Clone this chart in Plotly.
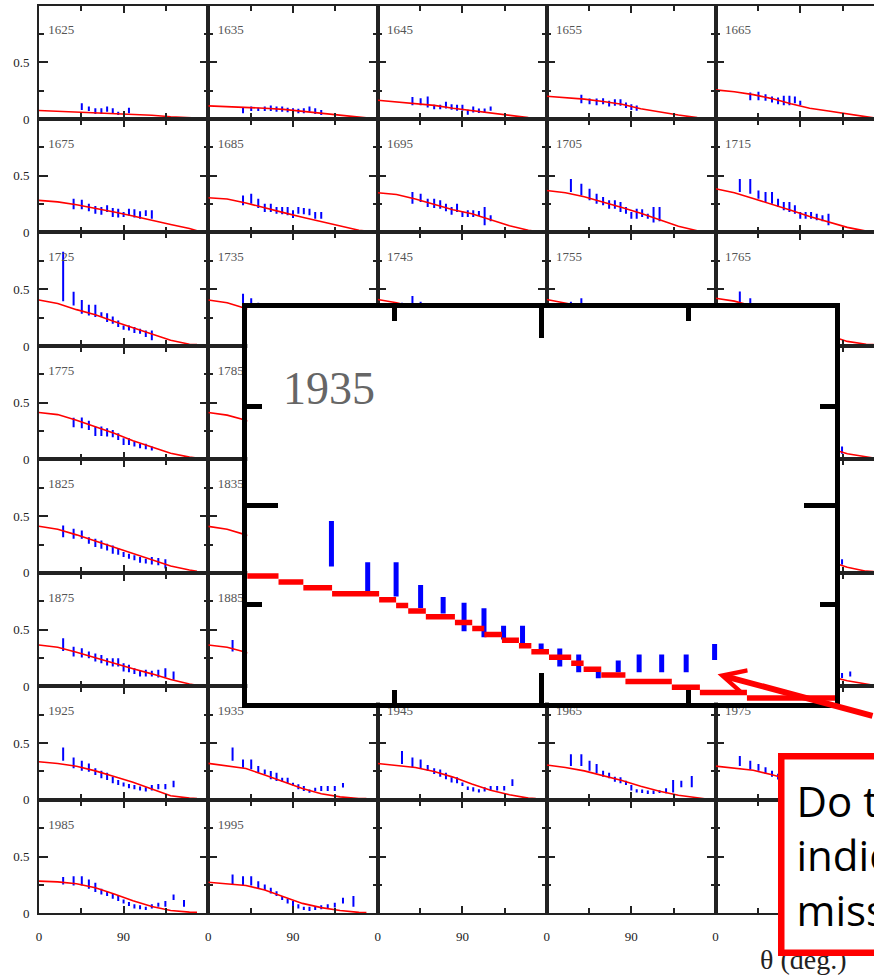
import plotly.graph_objects as go

# ---------------- data ----------------
LABELS = ["1625", "1635", "1645", "1655", "1665",
          "1675", "1685", "1695", "1705", "1715",
          "1725", "1735", "1745", "1755", "1765",
          "1775", "1785", "1795", "1805", "1815",
          "1825", "1835", "1845", "1855", "1865",
          "1875", "1885", "1895", "1905", "1915",
          "1925", "1935", "1945", "1965", "1975",
          "1985", "1995", "", "", ""]

THETA_BINS = [25.8, 36.9, 45.6, 53.1, 60.0, 66.4, 72.5, 78.5, 84.3, 90.0,
              95.7, 101.5, 107.5, 113.6, 120.0, 126.9, 134.4, 143.1, 154.2]

RED_X = [0, 20, 40, 60, 80, 100, 120, 140, 160, 168]

RED_Y = [
    [0.075, 0.068, 0.062, 0.057, 0.05, 0.042, 0.033, 0.02, 0.01, 0.008],      # 1625
    [0.116, 0.11, 0.102, 0.095, 0.085, 0.068, 0.052, 0.033, 0.014, 0.01],     # 1635
    [0.166, 0.15, 0.14, 0.12, 0.095, 0.075, 0.05, 0.03, 0.012, 0.01],         # 1645
    [0.2, 0.19, 0.175, 0.155, 0.13, 0.09, 0.06, 0.035, 0.012, 0.01],          # 1655
    [0.257, 0.24, 0.215, 0.18, 0.135, 0.095, 0.07, 0.045, 0.015, 0.01],       # 1665
    [0.283, 0.27, 0.245, 0.215, 0.18, 0.145, 0.105, 0.07, 0.035, 0.015],      # 1675
    [0.306, 0.295, 0.26, 0.215, 0.175, 0.135, 0.095, 0.055, 0.02, 0.012],     # 1685
    [0.35, 0.335, 0.295, 0.25, 0.2, 0.165, 0.11, 0.06, 0.02, 0.01],           # 1695
    [0.37, 0.35, 0.315, 0.27, 0.22, 0.17, 0.11, 0.055, 0.015, 0.012],         # 1705
    [0.385, 0.35, 0.3, 0.25, 0.195, 0.14, 0.095, 0.045, 0.012, 0.01],         # 1715
    [0.405, 0.375, 0.32, 0.275, 0.215, 0.16, 0.105, 0.05, 0.015, 0.012],      # 1725
    [0.405, 0.38, 0.33, 0.28, 0.22, 0.165, 0.11, 0.055, 0.015, 0.012],        # 1735
    [0.41, 0.38, 0.34, 0.285, 0.225, 0.165, 0.11, 0.055, 0.015, 0.012],       # 1745
    [0.41, 0.38, 0.345, 0.29, 0.23, 0.17, 0.11, 0.055, 0.015, 0.012],         # 1755
    [0.42, 0.395, 0.35, 0.29, 0.225, 0.16, 0.095, 0.04, 0.015, 0.012],        # 1765
    [0.414, 0.395, 0.345, 0.29, 0.23, 0.165, 0.11, 0.055, 0.02, 0.012],       # 1775
    [0.414, 0.39, 0.345, 0.29, 0.23, 0.165, 0.11, 0.055, 0.02, 0.012],        # 1785
    [0.41, 0.39, 0.34, 0.285, 0.225, 0.165, 0.11, 0.055, 0.02, 0.012],        # 1795
    [0.41, 0.39, 0.34, 0.285, 0.225, 0.165, 0.105, 0.055, 0.02, 0.012],       # 1805
    [0.41, 0.385, 0.34, 0.285, 0.225, 0.16, 0.1, 0.05, 0.02, 0.012],          # 1815
    [0.411, 0.385, 0.335, 0.28, 0.225, 0.165, 0.11, 0.06, 0.025, 0.015],      # 1825
    [0.41, 0.385, 0.335, 0.28, 0.22, 0.165, 0.11, 0.06, 0.025, 0.015],        # 1835
    [0.4, 0.375, 0.33, 0.275, 0.22, 0.16, 0.105, 0.06, 0.025, 0.015],         # 1845
    [0.39, 0.37, 0.325, 0.27, 0.215, 0.16, 0.105, 0.06, 0.025, 0.015],        # 1855
    [0.38, 0.36, 0.32, 0.265, 0.21, 0.155, 0.1, 0.05, 0.015, 0.012],          # 1865
    [0.364, 0.345, 0.3, 0.25, 0.2, 0.155, 0.11, 0.06, 0.02, 0.01],            # 1875
    [0.364, 0.345, 0.3, 0.25, 0.2, 0.15, 0.105, 0.055, 0.02, 0.01],           # 1885
    [0.355, 0.335, 0.295, 0.245, 0.195, 0.145, 0.1, 0.05, 0.02, 0.01],        # 1895
    [0.345, 0.33, 0.29, 0.24, 0.19, 0.14, 0.095, 0.05, 0.02, 0.01],           # 1905
    [0.34, 0.325, 0.29, 0.24, 0.19, 0.14, 0.09, 0.05, 0.02, 0.01],            # 1915
    [0.335, 0.32, 0.295, 0.255, 0.205, 0.155, 0.095, 0.035, 0.015, 0.01],     # 1925
    [0.321, 0.3, 0.276, 0.218, 0.158, 0.1, 0.054, 0.026, 0.012, 0.012],       # 1935
    [0.32, 0.305, 0.285, 0.25, 0.2, 0.14, 0.085, 0.045, 0.015, 0.012],        # 1945
    [0.306, 0.285, 0.255, 0.215, 0.17, 0.12, 0.075, 0.04, 0.015, 0.01],       # 1965
    [0.297, 0.28, 0.26, 0.22, 0.175, 0.125, 0.08, 0.04, 0.015, 0.01],         # 1975
    [0.283, 0.277, 0.26, 0.225, 0.17, 0.11, 0.06, 0.025, 0.01, 0.008],        # 1985
    [0.274, 0.262, 0.245, 0.205, 0.145, 0.087, 0.05, 0.025, 0.008, 0.006],    # 1995
]

# enlarged 1935 panel (inset)
INSET_LABEL = "1935"
INSET_RED_X = [0, 9.6, 17.2, 26.0, 40.4, 45.6, 49.3, 54.7, 63.6, 68.9, 72.6, 78.0,
               83.2, 87.0, 92.4, 99.2, 103.0, 108.4, 115.8, 130.0, 138.6, 153.0, 180.0]
INSET_RED_Y = [0.321, 0.306, 0.291, 0.276, 0.261, 0.246, 0.232, 0.218, 0.203, 0.188,
               0.173, 0.158, 0.144, 0.129, 0.115, 0.100, 0.085, 0.070, 0.054, 0.039,
               0.026, 0.012, 0.012]
INSET_BAR_LOW = [0.345, 0.283, 0.269, 0.240, 0.226, 0.181, 0.166, 0.160, 0.145,
                 0.125, 0.092, 0.077, 0.062, 0.077, 0.077, 0.077, 0.077, 0.108]
INSET_BAR_HIGH = [0.460, 0.356, 0.356, 0.298, 0.268, 0.253, 0.239, 0.195, 0.195,
                  0.150, 0.137, 0.122, 0.090, 0.107, 0.122, 0.122, 0.122, 0.149]

BAR_FIRST = [2, 1, 1, 1, 1,
             1, 1, 1, 0, 0,
             0, 1, 0, 0, 0,
             1, 1, 1, 0, 0,
             0, 1, 0, 0, 0,
             0, 0, 0, 0, 0,
             0, 0, 0, 0, 0,
             0, 0]

BAR_LOW = [
    [0.08, 0.07, 0.045, 0.045, 0.065, 0.045, 0.035, None, 0.05],
    [0.05, 0.07, 0.07, 0.07, 0.07, 0.065, 0.065, 0.06, 0.05, 0.05, 0.05, 0.065, 0.045, 0.035],
    [0.122, 0.122, 0.102, 0.087, 0.087, 0.093, 0.082, 0.073, 0.073, 0.038, 0.058, 0.052, 0.052, 0.073],
    [0.14, 0.131, 0.122, 0.131, 0.11, 0.117, 0.117, 0.096, 0.08, 0.073],
    [0.166, 0.166, 0.16, 0.146, 0.131, 0.122, 0.122, 0.14, 0.122],
    [0.204, 0.204, 0.187, 0.166, 0.157, 0.181, 0.137, 0.131, 0.137, 0.15, 0.131, 0.122, 0.146, 0.122],
    [0.239, 0.254, 0.216, 0.181, 0.181, 0.166, 0.16, 0.152, 0.128, 0.166, 0.16, 0.152, 0.122, 0.122],
    [0.254, 0.268, 0.224, 0.216, 0.21, 0.187, 0.157, 0.181, 0.137, 0.137, 0.137, 0.146, 0.064, 0.099],
    [0.356, 0.327, 0.283, 0.254, 0.239, 0.21, 0.21, 0.181, 0.166, 0.122, 0.122, 0.137, 0.122, 0.087, 0.099],
    [0.356, 0.341, 0.297, 0.268, 0.254, 0.224, 0.195, 0.181, 0.166, 0.122, 0.122, 0.122, 0.108, 0.099, 0.064],
    [0.394, 0.356, 0.283, 0.268, 0.254, 0.254, 0.21, 0.195, 0.166, 0.143, 0.137, 0.114, 0.108, 0.079, 0.05],
    [0.34, 0.34, 0.3, 0.27, 0.25, 0.22, 0.2, 0.18, 0.15, 0.13, 0.12, 0.1, 0.09, 0.08],
    [0.34, 0.35, 0.34, 0.3, 0.28, 0.25, 0.22, 0.2, 0.17, 0.14, 0.13, 0.11, 0.1, 0.09, 0.08],
    [0.33, 0.32, 0.3, 0.27, 0.25, 0.22, 0.2, 0.17, 0.15, 0.13, 0.12, 0.1, 0.09, 0.08],
    [0.34, 0.34, 0.31, 0.29, 0.26, 0.24, 0.21, 0.19, 0.16, 0.14, 0.12, 0.1, 0.09, 0.08, 0.07],
    [0.283, 0.274, 0.259, 0.207, 0.207, 0.201, 0.195, 0.172, 0.128, 0.128, 0.114, 0.099, 0.09, 0.079],
    [0.29, 0.27, 0.25, 0.21, 0.2, 0.19, 0.18, 0.16, 0.13, 0.12, 0.1, 0.09, 0.08, 0.07],
    [0.28, 0.27, 0.25, 0.21, 0.2, 0.19, 0.18, 0.16, 0.13, 0.12, 0.1, 0.09, 0.08, 0.07],
    [0.3, 0.28, 0.27, 0.25, 0.21, 0.2, 0.19, 0.17, 0.15, 0.13, 0.12, 0.1, 0.09, 0.08, 0.07, 0.06],
    [0.3, 0.28, 0.27, 0.25, 0.21, 0.2, 0.19, 0.17, 0.15, 0.13, 0.12, 0.1, 0.09, 0.08, 0.07, 0.06, 0.05],
    [0.315, 0.3, 0.3, 0.257, 0.227, 0.213, 0.198, 0.169, 0.16, 0.14, 0.125, 0.111, 0.09, 0.082, 0.073, 0.067, 0.038],
    [0.31, 0.29, 0.26, 0.23, 0.21, 0.2, 0.17, 0.16, 0.14, 0.12, 0.11, 0.09, 0.08, 0.07, 0.06, 0.04],
    [0.31, 0.3, 0.29, 0.25, 0.22, 0.21, 0.19, 0.17, 0.15, 0.13, 0.12, 0.1, 0.09, 0.08, 0.07, 0.06, 0.05],
    [0.3, 0.29, 0.28, 0.25, 0.22, 0.2, 0.19, 0.17, 0.15, 0.13, 0.11, 0.1, 0.09, 0.08, 0.07, 0.07, 0.06],
    [0.3, 0.28, 0.27, 0.24, 0.21, 0.2, 0.18, 0.16, 0.14, 0.12, 0.11, 0.1, 0.09, 0.08, 0.07, 0.07, 0.073],
    [0.312, 0.262, 0.254, 0.248, 0.219, 0.204, 0.184, 0.175, 0.175, 0.131, 0.125, 0.108, 0.087, 0.087, 0.087, 0.079, 0.079, 0.058],
    [0.306, 0.27, 0.25, 0.24, 0.21, 0.2, 0.18, 0.17, 0.15, 0.13, 0.12, 0.1, 0.09, 0.08, 0.08, 0.08, 0.07, 0.06],
    [0.3, 0.26, 0.25, 0.24, 0.21, 0.2, 0.18, 0.17, 0.15, 0.13, 0.12, 0.1, 0.09, 0.08, 0.08, 0.08, 0.07, 0.07],
    [0.3, 0.26, 0.25, 0.23, 0.21, 0.19, 0.18, 0.16, 0.14, 0.12, 0.11, 0.1, 0.09, 0.08, 0.08, 0.08, 0.07, 0.08],
    [0.3, 0.26, 0.25, 0.23, 0.21, 0.19, 0.18, 0.16, 0.14, 0.12, 0.11, 0.1, 0.09, 0.08, 0.08, 0.08, 0.073, 0.087],
    [0.344, 0.277, 0.257, 0.248, 0.219, 0.19, 0.175, 0.146, 0.131, 0.117, 0.102, 0.093, 0.082, 0.073, 0.082, 0.093, 0.093, 0.111],
    INSET_BAR_LOW,
    [0.315, 0.286, 0.277, 0.257, 0.227, 0.204, 0.181, 0.152, 0.146, 0.122, 0.087, 0.073, 0.064, 0.073, 0.082, 0.082, 0.082, 0.122],
    [0.297, 0.297, 0.257, 0.233, 0.204, 0.19, 0.16, 0.146, 0.131, 0.082, 0.064, 0.06, 0.052, 0.052, 0.06, 0.058, 0.064, 0.111, 0.111],
    [0.297, 0.268, 0.257, 0.227, 0.204, 0.18, 0.16, 0.14, 0.12, 0.1, 0.08, 0.07, 0.06, 0.06, 0.06, 0.07, 0.07, 0.1],
    [0.254, 0.245, 0.245, 0.216, 0.187, 0.166, 0.152, 0.128, 0.108, 0.087, 0.064, 0.041, 0.035, 0.029, 0.041, 0.058, 0.058, 0.117, 0.058],
    [0.254, 0.245, 0.245, 0.216, 0.204, 0.175, 0.152, 0.117, 0.087, 0.064, 0.041, 0.029, 0.02, 0.029, 0.035, 0.041, 0.05, 0.087, 0.058],
]

BAR_HIGH = [
    [0.14, 0.11, 0.095, 0.095, 0.11, 0.095, 0.065, None, 0.10],
    [0.10, 0.11, 0.10, 0.11, 0.12, 0.11, 0.11, 0.10, 0.095, 0.09, 0.095, 0.11, 0.095, 0.08],
    [0.195, 0.184, 0.198, 0.125, 0.125, 0.152, 0.131, 0.125, 0.125, 0.082, 0.111, 0.093, 0.093, 0.111],
    [0.213, 0.18, 0.18, 0.184, 0.16, 0.175, 0.175, 0.146, 0.13, 0.12],
    [0.233, 0.24, 0.219, 0.198, 0.19, 0.204, 0.204, 0.198, 0.16],
    [0.297, 0.289, 0.254, 0.233, 0.224, 0.239, 0.216, 0.21, 0.18, 0.21, 0.204, 0.187, 0.195, 0.195],
    [0.327, 0.341, 0.297, 0.254, 0.254, 0.224, 0.224, 0.224, 0.195, 0.224, 0.216, 0.21, 0.18, 0.18],
    [0.356, 0.341, 0.297, 0.297, 0.283, 0.254, 0.224, 0.254, 0.187, 0.195, 0.195, 0.19, 0.224, 0.152],
    [0.472, 0.429, 0.385, 0.341, 0.312, 0.283, 0.283, 0.268, 0.224, 0.18, 0.21, 0.204, 0.166, 0.224, 0.224],
    [0.472, 0.472, 0.37, 0.356, 0.356, 0.297, 0.268, 0.268, 0.239, 0.18, 0.18, 0.18, 0.166, 0.152, 0.166],
    [0.831, 0.478, 0.405, 0.362, 0.362, 0.297, 0.289, 0.259, 0.224, 0.181, 0.181, 0.166, 0.152, 0.137, 0.137],
    [0.46, 0.42, 0.38, 0.35, 0.32, 0.29, 0.27, 0.24, 0.21, 0.19, 0.17, 0.15, 0.14, 0.13],
    [0.38, 0.44, 0.39, 0.37, 0.34, 0.31, 0.28, 0.26, 0.23, 0.2, 0.18, 0.16, 0.15, 0.14, 0.13],
    [0.39, 0.42, 0.36, 0.34, 0.31, 0.29, 0.26, 0.23, 0.2, 0.18, 0.16, 0.15, 0.13, 0.12],
    [0.48, 0.42, 0.37, 0.365, 0.33, 0.3, 0.27, 0.25, 0.22, 0.19, 0.17, 0.15, 0.13, 0.12, 0.11],
    [0.367, 0.37, 0.341, 0.289, 0.289, 0.274, 0.259, 0.23, 0.187, 0.187, 0.157, 0.137, 0.137, 0.114],
    [0.36, 0.36, 0.33, 0.29, 0.28, 0.27, 0.25, 0.22, 0.19, 0.18, 0.16, 0.14, 0.13, 0.12],
    [0.36, 0.36, 0.33, 0.29, 0.28, 0.27, 0.25, 0.22, 0.19, 0.18, 0.16, 0.14, 0.13, 0.12],
    [0.4, 0.36, 0.35, 0.33, 0.29, 0.28, 0.26, 0.24, 0.21, 0.19, 0.17, 0.15, 0.14, 0.13, 0.12, 0.11],
    [0.4, 0.37, 0.35, 0.33, 0.29, 0.28, 0.26, 0.24, 0.21, 0.19, 0.17, 0.15, 0.14, 0.13, 0.12, 0.11, 0.114],
    [0.417, 0.388, 0.373, 0.315, 0.3, 0.286, 0.257, 0.242, 0.219, 0.184, 0.169, 0.155, 0.14, 0.125, 0.14, 0.131, 0.12],
    [0.40, 0.38, 0.32, 0.3, 0.28, 0.26, 0.24, 0.22, 0.19, 0.17, 0.15, 0.14, 0.13, 0.14, 0.13, 0.12],
    [0.41, 0.38, 0.37, 0.31, 0.29, 0.28, 0.25, 0.23, 0.21, 0.18, 0.16, 0.15, 0.13, 0.12, 0.13, 0.13, 0.12],
    [0.4, 0.37, 0.36, 0.31, 0.29, 0.27, 0.25, 0.23, 0.2, 0.18, 0.16, 0.14, 0.13, 0.12, 0.13, 0.13, 0.12],
    [0.39, 0.36, 0.35, 0.3, 0.28, 0.26, 0.24, 0.22, 0.2, 0.18, 0.16, 0.14, 0.13, 0.12, 0.12, 0.13, 0.12],
    [0.423, 0.35, 0.335, 0.306, 0.29, 0.277, 0.248, 0.248, 0.248, 0.204, 0.19, 0.16, 0.137, 0.146, 0.137, 0.146, 0.16, 0.131],
    [0.408, 0.35, 0.33, 0.3, 0.28, 0.27, 0.25, 0.24, 0.22, 0.2, 0.18, 0.16, 0.14, 0.14, 0.14, 0.15, 0.15, 0.13],
    [0.41, 0.35, 0.33, 0.3, 0.28, 0.27, 0.25, 0.24, 0.22, 0.19, 0.17, 0.15, 0.14, 0.13, 0.13, 0.14, 0.14, 0.13],
    [0.41, 0.35, 0.33, 0.3, 0.28, 0.26, 0.24, 0.23, 0.2, 0.18, 0.16, 0.15, 0.13, 0.12, 0.13, 0.13, 0.13, 0.14],
    [0.42, 0.35, 0.33, 0.3, 0.28, 0.26, 0.24, 0.23, 0.2, 0.18, 0.16, 0.15, 0.13, 0.12, 0.13, 0.13, 0.117, 0.131],
    [0.461, 0.373, 0.344, 0.32, 0.277, 0.257, 0.239, 0.204, 0.175, 0.152, 0.14, 0.131, 0.117, 0.111, 0.131, 0.14, 0.14, 0.169],
    INSET_BAR_HIGH,
    [0.431, 0.373, 0.356, 0.306, 0.277, 0.268, 0.239, 0.198, 0.198, 0.152, 0.117, 0.111, 0.093, 0.111, 0.122, 0.122, 0.122, 0.181],
    [0.402, 0.402, 0.344, 0.315, 0.257, 0.239, 0.204, 0.198, 0.169, 0.131, 0.093, 0.09, 0.082, 0.082, 0.085, 0.102, 0.175, 0.169, 0.21],
    [0.385, 0.344, 0.315, 0.286, 0.257, 0.23, 0.21, 0.19, 0.17, 0.14, 0.12, 0.1, 0.09, 0.09, 0.11, 0.11, 0.15, 0.16],
    [0.32, 0.326, 0.326, 0.297, 0.268, 0.216, 0.195, 0.175, 0.157, 0.122, 0.099, 0.079, 0.07, 0.058, 0.079, 0.093, 0.108, 0.166, 0.117],
    [0.341, 0.326, 0.326, 0.283, 0.254, 0.224, 0.195, 0.152, 0.128, 0.108, 0.079, 0.058, 0.058, 0.058, 0.07, 0.079, 0.093, 0.137, 0.152],
]

X_TICKS = [0, 90, 180]
X_TICKTEXT = ["0", "90", ""]
X_TICKTEXT_LASTCOL = ["0", "", ""]     # its "90" sits under the callout box
X_MINOR = [45, 135]
Y_TICKS = [0, 0.5, 1]
Y_TICKTEXT = ["0", "0.5", ""]
Y_MINOR = [0.25, 0.75]

AXIS_TITLE = "θ (deg.)"
CALLOUT_TEXT = "Do these<br>indicate a<br>missing state?"

# ---------------- layout geometry (pixels) ----------------
W, H = 874, 978
COL_LEFT = [36, 206, 376, 545.5, 715]
PANEL_W = 170
ROW_ZERO0 = 120.0
ROW_H = 114.4
INSET_BOX = (245, 835, 310.5, 708.5)   # left, right, top, bottom

SERIF = "Liberation Serif"
FRAME = "#222222"
TICKFONT = dict(family=SERIF, size=13, color="#222222")

fig = go.Figure()
layout = {}


def ax_names(i):
    return ("x" if i == 1 else f"x{i}", "y" if i == 1 else f"y{i}",
            "xaxis" if i == 1 else f"xaxis{i}", "yaxis" if i == 1 else f"yaxis{i}")


for k in range(40):
    r, c = divmod(k, 5)
    i = k + 1
    xn, yn, xk, yk = ax_names(i)
    x0 = COL_LEFT[c]
    x1 = min(x0 + PANEL_W, W)
    xmax = 180.0 * (x1 - x0) / PANEL_W
    zero = ROW_ZERO0 + r * ROW_H
    top = zero - ROW_H

    layout[xk] = dict(
        domain=[x0 / W, x1 / W], range=[0, xmax], anchor=yn,
        showline=True, linecolor=FRAME, linewidth=1.5, mirror="ticks",
        ticks="inside", tickvals=X_TICKS,
        ticktext=(X_TICKTEXT if c < 4 else X_TICKTEXT_LASTCOL),
        ticklen=8, tickwidth=1.5, tickcolor=FRAME,
        showticklabels=(r == 7), ticklabelstandoff=10, tickfont=TICKFONT,
        minor=dict(tickvals=X_MINOR, ticks="inside", ticklen=6, tickwidth=1.5,
                   tickcolor=FRAME, showgrid=False),
        showgrid=False, zeroline=False, fixedrange=True)
    layout[yk] = dict(
        domain=[1 - zero / H, 1 - top / H], range=[0, 1], anchor=xn,
        showline=True, linecolor=FRAME, linewidth=1.5,
        mirror=("ticks" if c < 4 else False),
        ticks="inside", tickvals=Y_TICKS, ticktext=Y_TICKTEXT,
        ticklen=9, tickwidth=1.5, tickcolor=FRAME,
        showticklabels=(c == 0), ticklabelstandoff=5, tickfont=TICKFONT,
        minor=dict(tickvals=Y_MINOR, ticks="inside", ticklen=5, tickwidth=1.5,
                   tickcolor=FRAME, showgrid=False),
        showgrid=False, zeroline=False, fixedrange=True)

    if k >= len(RED_Y):
        # empty frame: a blank trace so the subplot is drawn
        fig.add_trace(go.Scatter(x=[None], y=[None], mode="lines", xaxis=xn, yaxis=yn,
                                 hoverinfo="skip"))
        continue

    bx, by = [], []
    for j, (lo, hi) in enumerate(zip(BAR_LOW[k], BAR_HIGH[k])):
        if lo is None:
            continue
        t = THETA_BINS[BAR_FIRST[k] + j]
        bx += [t, t, None]
        by += [lo, hi, None]
    fig.add_trace(go.Scatter(x=bx, y=by, mode="lines", xaxis=xn, yaxis=yn,
                             line=dict(color="#0000ff", width=2), hoverinfo="skip"))
    fig.add_trace(go.Scatter(x=RED_X, y=RED_Y[k], mode="lines", xaxis=xn, yaxis=yn,
                             line=dict(color="#ff0000", width=1.6), hoverinfo="skip"))
    fig.add_trace(go.Scatter(x=[10], y=[0.775], mode="text", text=[LABELS[k]],
                             textposition="middle right", xaxis=xn, yaxis=yn,
                             textfont=dict(family=SERIF, size=13, color="#555555"),
                             hoverinfo="skip"))

# ---------------- inset (enlarged 1935 panel) ----------------
i = 41
xn, yn, xk, yk = ax_names(i)
L, R, T, B = INSET_BOX
layout[xk] = dict(
    domain=[L / W, R / W], range=[0, 180], anchor=yn,
    showline=True, linecolor="black", linewidth=5, mirror="ticks",
    ticks="inside", tickvals=[90], ticklen=30, tickwidth=5, tickcolor="black",
    showticklabels=False,
    minor=dict(tickvals=X_MINOR, ticks="inside", ticklen=13, tickwidth=5,
               tickcolor="black", showgrid=False),
    showgrid=False, zeroline=False, fixedrange=True)
layout[yk] = dict(
    domain=[1 - B / H, 1 - T / H], range=[0, 1], anchor=xn,
    showline=True, linecolor="black", linewidth=5, mirror="ticks",
    ticks="inside", tickvals=[0.5], ticklen=31, tickwidth=5, tickcolor="black",
    showticklabels=False,
    minor=dict(tickvals=Y_MINOR, ticks="inside", ticklen=15, tickwidth=5,
               tickcolor="black", showgrid=False),
    showgrid=False, zeroline=False, fixedrange=True)

# white backing so the inset hides the panels underneath
fig.add_trace(go.Scatter(x=[0, 180, 180, 0, 0], y=[0, 0, 1, 1, 0], mode="lines",
                         fill="toself", fillcolor="white", line=dict(width=0),
                         xaxis=xn, yaxis=yn, hoverinfo="skip"))
ix, iy = [], []
for j, (lo, hi) in enumerate(zip(INSET_BAR_LOW, INSET_BAR_HIGH)):
    t = THETA_BINS[j]
    ix += [t, t, None]
    iy += [lo, hi, None]
fig.add_trace(go.Scatter(x=ix, y=iy, mode="lines", xaxis=xn, yaxis=yn,
                         line=dict(color="#0000ff", width=5), hoverinfo="skip"))
# red model drawn as separate flat segments (pixel steps)
sx, sy = [], []
for j in range(len(INSET_RED_X) - 1):
    sx += [INSET_RED_X[j], INSET_RED_X[j + 1], None]
    sy += [INSET_RED_Y[j], INSET_RED_Y[j], None]
fig.add_trace(go.Scatter(x=sx, y=sy, mode="lines", xaxis=xn, yaxis=yn,
                         line=dict(color="#ff0000", width=5.5), hoverinfo="skip"))
fig.add_trace(go.Scatter(x=[11], y=[0.785], mode="text", text=[INSET_LABEL],
                         textposition="middle right", xaxis=xn, yaxis=yn,
                         textfont=dict(family=SERIF, size=46, color="#666666"),
                         hoverinfo="skip"))

annotations = [
    dict(text=AXIS_TITLE, x=803 / W, y=1 - 967 / H, xref="paper", yref="paper",
         xanchor="center", yanchor="middle", showarrow=False,
         font=dict(family=SERIF, size=28, color="#222222")),
    dict(text="", x=144, y=0.072, xref=xn, yref=yn, showarrow=True,
         ax=170, ay=42, arrowhead=5, arrowsize=0.75, arrowwidth=6,
         arrowcolor="#ff0000"),
    dict(text=CALLOUT_TEXT, x=778 / W, y=1 - 759 / H, xref="paper", yref="paper",
         xanchor="left", yanchor="top", align="left", showarrow=False,
         font=dict(family="Open Sans", size=42, color="black"),
         bordercolor="#ff0000", borderwidth=6.5, borderpad=12, bgcolor="white"),
]

fig.update_layout(
    width=W, height=H, autosize=False,
    margin=dict(l=0, r=0, t=0, b=0, pad=0),
    paper_bgcolor="white", plot_bgcolor="rgba(0,0,0,0)",
    showlegend=False, annotations=annotations, **layout)

fig.write_html("out.html")
